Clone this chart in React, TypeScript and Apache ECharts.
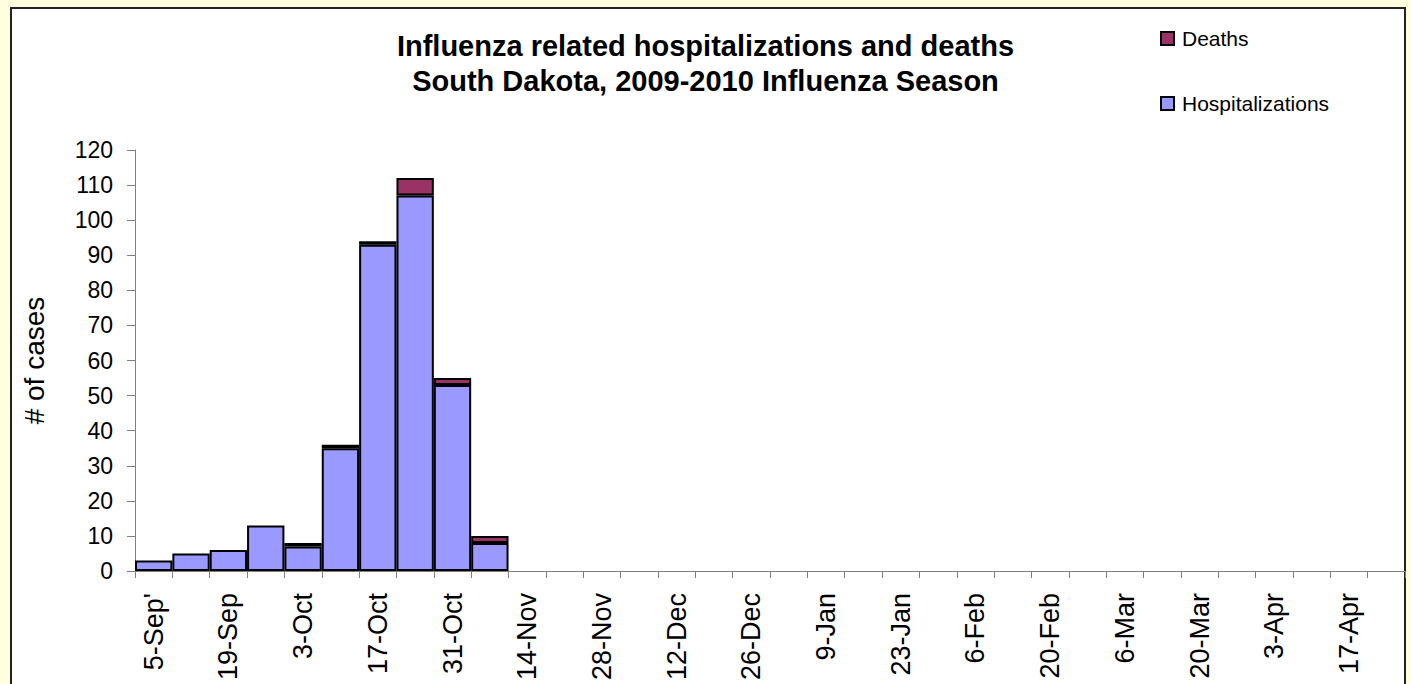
import React, { useEffect, useRef } from "react";
import * as echarts from "echarts";

const weeks: string[] = [
  "5-Sep'", "12-Sep", "19-Sep", "26-Sep", "3-Oct", "10-Oct", "17-Oct", "24-Oct", "31-Oct",
  "7-Nov", "14-Nov", "21-Nov", "28-Nov", "5-Dec", "12-Dec", "19-Dec", "26-Dec",
  "2-Jan", "9-Jan", "16-Jan", "23-Jan", "30-Jan", "6-Feb", "13-Feb", "20-Feb", "27-Feb",
  "6-Mar", "13-Mar", "20-Mar", "27-Mar", "3-Apr", "10-Apr", "17-Apr", "24-Apr",
];

// Reported weeks only (remaining weeks of the season have no data yet)
const hospitalizations: number[] = [3, 5, 6, 13, 7, 35, 93, 107, 53, 8];
const deaths: number[] = [0, 0, 0, 0, 1, 1, 1, 5, 2, 2];

const yTicks = { min: 0, max: 120, interval: 10 };

const titleLines = [
  "Influenza related hospitalizations and deaths",
  "South Dakota, 2009-2010 Influenza Season",
];

const HOSP_COLOR = "#9999FF";
const DEATH_COLOR = "#993366";
const FONT = "Arial, 'Liberation Sans', Helvetica, sans-serif";

export default function App() {
  const ref = useRef<HTMLDivElement>(null);

  useEffect(() => {
    if (!ref.current) return;
    const chart = echarts.init(ref.current, undefined, { renderer: "svg" });

    const hospData = weeks.map((_, i) =>
      i < hospitalizations.length ? hospitalizations[i] : null
    );
    const deathData = weeks.map((_, i) =>
      i < deaths.length && deaths[i] > 0 ? deaths[i] : null
    );

    chart.setOption({
      animation: false,
      backgroundColor: "#FFFFE0",
      textStyle: { fontFamily: FONT },
      graphic: [
        {
          type: "rect",
          z: -10,
          silent: true,
          shape: { x: 11, y: 8, width: 1394, height: 700 },
          style: { fill: "#FFFFFF", stroke: "#222222", lineWidth: 2 },
        },
      ],
      title: {
        text: titleLines.join("\n"),
        left: "center",
        top: 28,
        padding: 0,
        textStyle: {
          fontFamily: FONT,
          fontSize: 29,
          fontWeight: "bold",
          color: "#000000",
          lineHeight: 35,
        },
      },
      legend: {
        orient: "vertical",
        left: 1160,
        top: 28,
        padding: 0,
        itemGap: 44,
        itemWidth: 13,
        itemHeight: 13,
        icon: "rect",
        data: ["Deaths", "Hospitalizations"],
        itemStyle: { borderColor: "#000000", borderWidth: 2 },
        textStyle: {
          fontFamily: FONT,
          fontSize: 21,
          color: "#000000",
          lineHeight: 21,
          padding: [0, 0, 0, 3],
        },
      },
      grid: { left: 135, right: 6, top: 150, bottom: 113, containLabel: false },
      xAxis: {
        type: "category",
        data: weeks,
        boundaryGap: true,
        axisLine: { lineStyle: { color: "#808080", width: 1 } },
        axisTick: { show: true, interval: 0, length: 7, lineStyle: { color: "#808080" } },
        axisLabel: {
          interval: 1,
          rotate: 90,
          margin: 22,
          fontFamily: FONT,
          fontSize: 27,
          color: "#000000",
        },
        splitLine: { show: false },
      },
      yAxis: {
        type: "value",
        min: yTicks.min,
        max: yTicks.max,
        interval: yTicks.interval,
        name: "# of cases",
        nameLocation: "middle",
        nameGap: 87,
        nameRotate: 90,
        nameTextStyle: { fontFamily: FONT, fontSize: 28, color: "#000000" },
        axisLine: { show: true, lineStyle: { color: "#808080", width: 1 } },
        axisTick: { show: true, length: 8, lineStyle: { color: "#808080" } },
        axisLabel: { margin: 22, fontFamily: FONT, fontSize: 23, color: "#000000" },
        splitLine: { show: false },
      },
      series: [
        {
          name: "Hospitalizations",
          type: "bar",
          stack: "total",
          data: hospData,
          barCategoryGap: "0%",
          itemStyle: { color: HOSP_COLOR, borderColor: "#000000", borderWidth: 2 },
        },
        {
          name: "Deaths",
          type: "bar",
          stack: "total",
          data: deathData,
          barCategoryGap: "0%",
          itemStyle: { color: DEATH_COLOR, borderColor: "#000000", borderWidth: 2 },
        },
      ],
    });

    return () => chart.dispose();
  }, []);

  return (
    <div
      ref={ref}
      style={{ position: "fixed", left: 0, top: 0, width: 1411, height: 684 }}
    />
  );
}
